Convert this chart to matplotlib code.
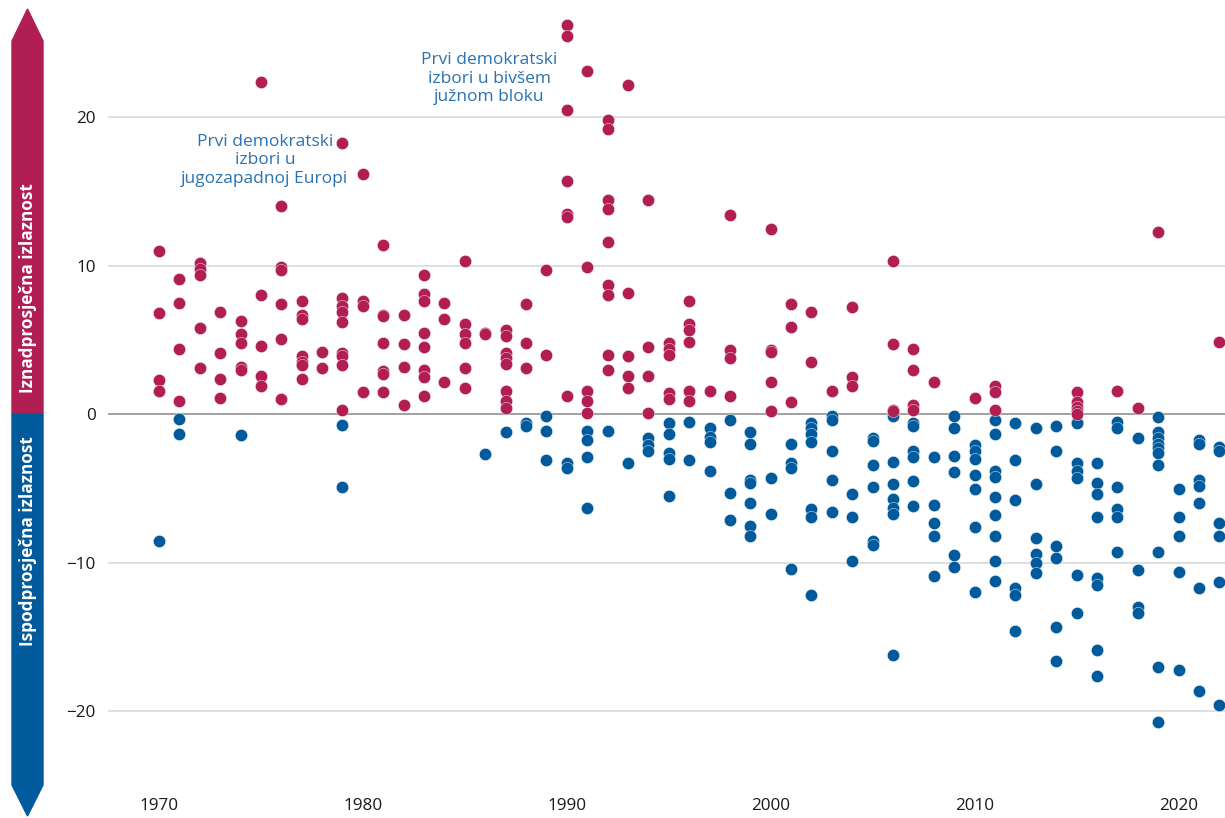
import matplotlib.pyplot as plt
from matplotlib.patches import Polygon

# turnout deviation from average, per election year
years = list(range(1970, 2023))

above = [
    [11.0, 6.8, 2.3, 1.6],                          # 1970
    [9.1, 7.5, 4.4, 0.9],
    [10.2, 9.8, 9.4, 5.8, 3.1],
    [6.9, 4.1, 2.4, 1.1],
    [6.3, 5.4, 4.8, 3.2, 3.0],
    [22.4, 8.0, 4.6, 2.6, 1.9],
    [14.0, 9.9, 9.7, 7.4, 5.1, 1.0],
    [7.6, 6.7, 6.4, 3.9, 3.5, 3.3, 2.4],
    [4.2, 3.1],
    [18.3, 7.8, 7.3, 6.9, 6.2, 4.1, 3.9, 3.3, 0.3],
    [16.2, 7.6, 7.3, 1.5],                          # 1980
    [11.4, 6.7, 6.6, 4.8, 2.9, 2.7, 1.5],
    [6.7, 4.7, 3.2, 0.6],
    [9.4, 8.1, 7.6, 5.5, 4.5, 3.0, 2.5, 1.2],
    [7.5, 6.4, 2.2],
    [10.3, 6.1, 5.4, 4.8, 3.1, 1.8],
    [5.5, 5.4],
    [5.7, 5.3, 4.1, 3.8, 3.4, 1.6, 0.9, 0.4],
    [7.4, 4.8, 3.1],
    [9.7, 4.0],
    [26.2, 25.5, 20.5, 15.7, 13.5, 13.3, 1.2],      # 1990
    [23.1, 9.9, 1.6, 0.9, 0.1],
    [19.8, 19.2, 14.4, 13.8, 11.6, 8.7, 8.0, 4.0, 3.0],
    [22.2, 8.2, 3.9, 2.6, 1.8],
    [14.4, 4.5, 2.6, 0.1],
    [4.8, 4.4, 4.0, 1.4, 1.0],
    [7.6, 6.1, 5.7, 4.9, 1.6, 0.9],
    [1.6],
    [13.4, 4.3, 3.8, 1.2],
    [],
    [12.5, 4.3, 4.2, 2.2, 0.2],                     # 2000
    [7.4, 5.9, 0.8],
    [6.9, 3.5],
    [1.6],
    [7.2, 2.5, 1.9],
    [],
    [10.3, 4.7, 0.3, 0.2],
    [4.4, 3.0, 0.6, 0.3],
    [2.2],
    [],
    [1.1],                                          # 2010
    [1.9, 1.5, 0.3],
    [],
    [],
    [],
    [1.5, 0.8, 0.5, 0.2, 0.0],
    [],
    [1.6],
    [0.4],
    [12.3],
    [],                                             # 2020
    [],
    [4.9],
]

below = [
    [-8.5],                                         # 1970
    [-0.3, -1.3],
    [],
    [],
    [-1.4],
    [],
    [],
    [],
    [],
    [-0.7, -4.9],
    [],                                             # 1980
    [],
    [],
    [],
    [],
    [],
    [-2.7],
    [-1.2],
    [-0.6, -0.8],
    [-0.1, -1.1, -3.1],
    [-3.3, -3.6],                                   # 1990
    [-1.1, -1.7, -2.9, -6.3],
    [-1.1],
    [-3.3],
    [-1.6, -2.1, -2.5],
    [-0.6, -1.3, -2.6, -3.0, -5.5],
    [-0.5, -3.1],
    [-0.9, -1.5, -1.9, -3.8],
    [-0.4, -5.3, -7.1],
    [-1.2, -2.0, -4.4, -4.6, -6.0, -7.5, -8.2],
    [-4.3, -6.7],                                   # 2000
    [-2.0, -3.3, -3.6, -10.4],
    [-0.6, -0.9, -1.3, -1.9, -6.4, -6.9, -12.2],
    [-0.1, -0.4, -2.5, -4.4, -6.6],
    [-5.4, -6.9, -9.9],
    [-1.6, -1.8, -3.4, -4.9, -8.5, -8.8],
    [-0.1, -3.2, -4.7, -5.7, -6.3, -6.7, -16.2],
    [-0.6, -0.8, -2.5, -2.9, -4.5, -6.2],
    [-2.9, -6.1, -7.3, -8.2, -10.9],
    [-0.1, -0.9, -2.8, -3.9, -9.5, -10.3],
    [-2.1, -2.5, -3.0, -4.1, -5.0, -7.6, -12.0],    # 2010
    [-0.4, -1.3, -3.8, -4.2, -5.6, -6.8, -8.2, -9.9, -11.2],
    [-0.6, -3.1, -5.8, -11.7, -12.2, -14.6],
    [-0.9, -4.7, -8.3, -9.4, -10.0, -10.7],
    [-0.8, -2.5, -8.9, -9.7, -14.3, -16.6],
    [-0.5, -0.6, -3.3, -3.8, -4.3, -10.8, -13.4],
    [-3.3, -4.6, -5.4, -6.9, -11.0, -11.5, -15.9, -17.6],
    [-0.5, -0.9, -4.9, -6.4, -6.9, -9.3],
    [-1.6, -10.5, -13.0, -13.4],
    [-0.2, -1.2, -1.6, -2.0, -2.3, -2.6, -3.4, -9.3, -17.0, -20.7],
    [-5.0, -6.9, -8.2, -10.6, -17.2],               # 2020
    [-1.7, -2.0, -4.4, -4.8, -6.0, -11.7, -18.6],
    [-2.2, -2.5, -7.3, -8.2, -11.3, -19.6],
]

yticks = [-20, -10, 0, 10, 20]
xticks = [1970, 1980, 1990, 2000, 2010, 2020]

notes = [
    (1975.2, 17.1, "Prvi demokratski\nizbori u\njugozapadnoj Europi"),
    (1986.2, 22.6, "Prvi demokratski\nizbori u bivšem\njužnom bloku"),
]

RED = "#B01E54"
BLUE = "#005A9C"
NOTE = "#2A72B0"

plt.rcParams['font.family'] = ['Open Sans', 'DejaVu Sans']

W, H = 1225, 818
fig = plt.figure(figsize=(W / 100, H / 100), dpi=100)
ax = fig.add_axes([108 / W, (H - 790) / H, 1 - 108 / W, (790 - 5) / H])

def flatten(groups):
    xs, ys = [], []
    for yr, vals in zip(years, groups):
        xs += [yr] * len(vals)
        ys += vals
    return xs, ys

bx, by = flatten(below)
rx, ry = flatten(above)
ax.scatter(bx, by, s=78, color=BLUE, edgecolor="white", linewidth=0.3, zorder=3)
ax.scatter(rx, ry, s=78, color=RED, edgecolor="white", linewidth=0.3, zorder=3)

for y in yticks:
    ax.axhline(y, color="#999999" if y == 0 else "#dcdcdc", lw=1.3, zorder=1)

ax.set_xlim(1967.5, 2022.28)
ax.set_ylim(-25.3, 27.56)
ax.set_yticks(yticks)
ax.set_xticks(xticks)
ax.tick_params(length=0, labelsize=12.3, colors="#1a1a1a")
ax.tick_params(axis="y", pad=9)
ax.tick_params(axis="x", pad=6)
for s in ax.spines.values():
    s.set_visible(False)

for x, y, t in notes:
    ax.text(x, y, t, ha="center", va="center", color=NOTE, fontsize=12.5,
            linespacing=1.2)

# double arrow bar on the left
def px(x, y):
    return (x / W, 1 - y / H)

top = [px(27.5, 9), px(43, 41), px(43, 414), px(12, 414), px(12, 41)]
bot = [px(12, 414), px(43, 414), px(43, 785), px(27.5, 816), px(12, 785)]
fig.patches.append(Polygon(top, closed=True, color=RED, transform=fig.transFigure))
fig.patches.append(Polygon(bot, closed=True, color=BLUE, transform=fig.transFigure))
fig.text(28 / W, 1 - 288 / H, "Iznadprosječna izlaznost", rotation=90,
         ha="center", va="center", color="white", fontweight="bold", fontsize=12.3)
fig.text(28 / W, 1 - 541 / H, "Ispodprosječna izlaznost", rotation=90,
         ha="center", va="center", color="white", fontweight="bold", fontsize=12.3)

fig.savefig("out.png", dpi=100)
